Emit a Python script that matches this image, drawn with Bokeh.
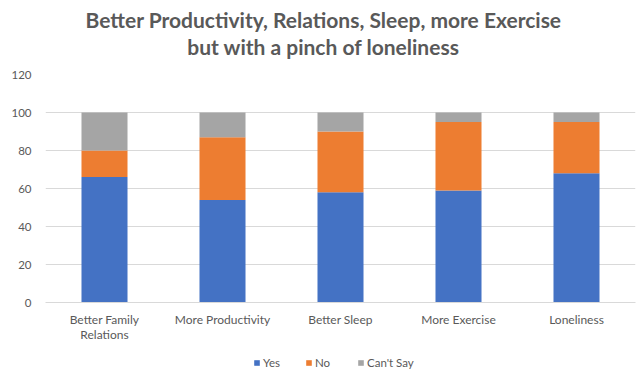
from bokeh.plotting import figure
from bokeh.layouts import column
from bokeh.models import Legend, LegendItem, FixedTicker, Range1d, Label
from bokeh.embed import file_html
from bokeh.resources import INLINE

# Survey outcomes per category (percent of respondents)
categories = ["Better Family\nRelations", "More Productivity", "Better Sleep", "More Exercise", "Loneliness"]
yes = [66, 54, 58, 59, 68]
no = [14, 33, 32, 36, 27]
cant_say = [20, 13, 10, 5, 5]
series = ["Yes", "No", "Can't Say"]
colors = ["#4472C4", "#ED7D31", "#A5A5A5"]
y_ticks = [0, 20, 40, 60, 80, 100, 120]
title_lines = ["Better Productivity, Relations, Sleep, more Exercise", "but with a pinch of loneliness"]

TEXT = "#595959"
GRID = "#D9D9D9"
FONT = "Lato"
LEFT, RIGHT = 45, 7


def strip(height):
    """A bare figure used only to hold text or a legend."""
    f = figure(width=642, height=height, output_backend="svg", toolbar_location=None,
               min_border_left=LEFT, min_border_right=RIGHT, min_border_top=0, min_border_bottom=0,
               outline_line_color=None, x_axis_type=None, y_axis_type=None)
    f.xgrid.grid_line_color = None
    f.ygrid.grid_line_color = None
    return f


# --- title: two centred lines -------------------------------------------
head = strip(66)
for text, y in zip(title_lines, [47, 20]):
    head.add_layout(Label(x=278, y=y, x_units="screen", y_units="screen", text=text,
                          text_align="center", text_baseline="alphabetic",
                          text_font=FONT, text_font_size="21px", text_font_style="bold",
                          text_color=TEXT))

# --- stacked bars --------------------------------------------------------
data = {"cat": categories, "Yes": yes, "No": no, "Can't Say": cant_say}

p = figure(
    x_range=categories,
    y_range=Range1d(0, 120),
    width=642, height=281,
    output_backend="svg", toolbar_location=None,
    min_border_left=LEFT, min_border_right=RIGHT,
    min_border_top=8, min_border_bottom=45,
    outline_line_color=None,
)
p.vbar_stack(series, x="cat", width=0.39, color=colors, source=data, line_color=None)

p.yaxis.ticker = FixedTicker(ticks=y_ticks)
p.yaxis.axis_line_color = None
p.yaxis.major_tick_line_color = None
p.yaxis.minor_tick_line_color = None
p.yaxis.major_label_text_color = TEXT
p.yaxis.major_label_text_font = FONT
p.yaxis.major_label_text_font_size = "11.5px"
p.yaxis.major_label_standoff = 8

p.xaxis.axis_line_color = GRID
p.xaxis.major_tick_line_color = None
p.xaxis.minor_tick_line_color = None
p.xaxis.major_label_text_color = TEXT
p.xaxis.major_label_text_font = FONT
p.xaxis.major_label_text_font_size = "12px"
p.xaxis.major_label_text_line_height = 1.0
p.xaxis.major_label_standoff = 3

p.xgrid.grid_line_color = None
p.ygrid.grid_line_color = GRID
p.ygrid.grid_line_width = 1

# --- legend strip ----------------------------------------------------------
foot = strip(26)
swatches = [foot.vbar(x=[float("nan")], top=[float("nan")], width=1, color=c, line_color=None)
            for c in colors]
legend = Legend(
    items=[LegendItem(label=s, renderers=[r]) for s, r in zip(series, swatches)],
    orientation="horizontal",
    location=(208, 4),
    border_line_color=None,
    background_fill_alpha=0,
    label_text_font=FONT,
    label_text_font_size="11.5px",
    label_text_color=TEXT,
    glyph_width=7, glyph_height=7,
    spacing=22, label_standoff=3,
    padding=0, margin=0,
)
foot.add_layout(legend, "center")

layout = column(head, p, foot, spacing=0)
open("out.html", "w").write(file_html(layout, INLINE))
